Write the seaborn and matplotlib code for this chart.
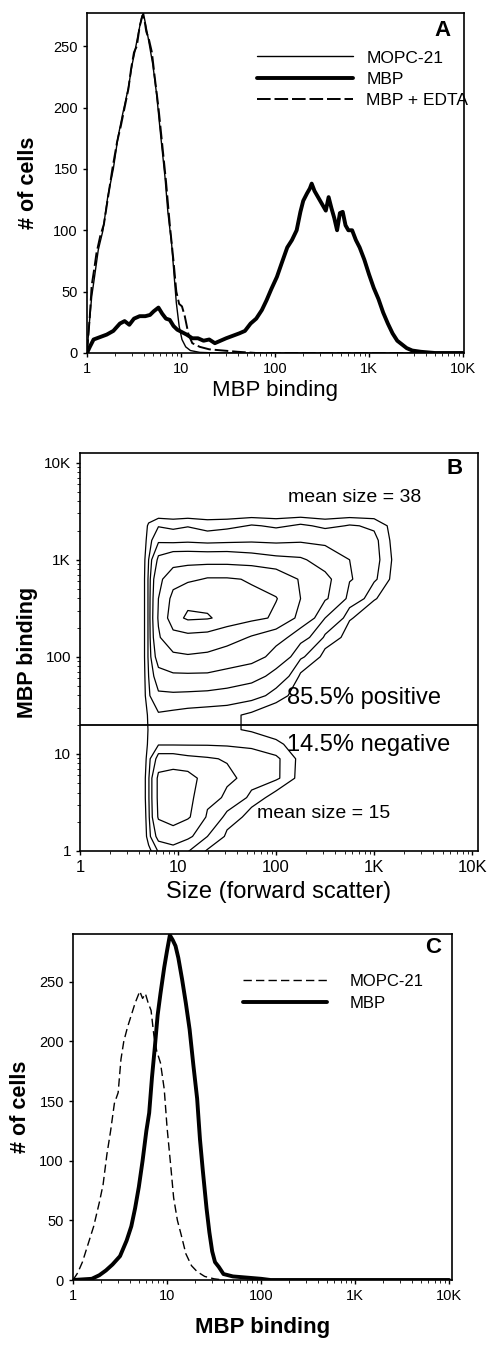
import numpy as np
import matplotlib
matplotlib.use("Agg")
import matplotlib.pyplot as plt
import seaborn as sns

# ---------------- panel A : histograms (x stored as log10 of MBP binding) ----------------
a_mopc_x = [0.0, 0.02, 0.05, 0.08, 0.12, 0.17, 0.22, 0.28, 0.33, 0.38, 0.44, 0.48, 0.51, 0.55, 0.58,
            0.60, 0.63, 0.65, 0.70, 0.74, 0.78, 0.83, 0.86, 0.90, 0.93, 0.95, 0.98, 1.01, 1.05, 1.10,
            1.20, 1.40, 4.0]
a_mopc_cells = [0, 20, 46, 62, 84, 100, 127, 150, 176, 195, 216, 235, 246, 262, 273,
                277, 265, 257, 235, 211, 180, 143, 115, 89, 60, 41, 22, 11, 5, 2,
                0.5, 0, 0]

a_mbp_x = [0.0, 0.03, 0.07, 0.14, 0.21, 0.28, 0.35, 0.40, 0.45, 0.50, 0.56, 0.62, 0.67, 0.71, 0.76,
           0.80, 0.84, 0.88, 0.92, 0.96, 1.01, 1.06, 1.12, 1.18, 1.24, 1.30, 1.36, 1.42, 1.48, 1.55,
           1.62, 1.68, 1.74, 1.80, 1.86, 1.91, 1.96, 2.02, 2.07, 2.13, 2.18, 2.23, 2.27, 2.30, 2.34,
           2.37, 2.39, 2.42, 2.45, 2.48, 2.51, 2.54, 2.57, 2.60, 2.63, 2.66, 2.69, 2.72, 2.75, 2.78,
           2.82, 2.86, 2.90, 2.95, 3.00, 3.05, 3.10, 3.15, 3.20, 3.25, 3.30, 3.35, 3.40, 3.46, 3.55,
           3.70, 4.0]
a_mbp_cells = [0, 5, 11, 13, 15, 18, 24, 26, 23, 28, 30, 30, 31, 34, 37,
               32, 28, 27, 22, 19, 17, 15, 12, 12, 10, 11, 8, 10, 12, 14,
               16, 18, 24, 28, 35, 43, 52, 62, 73, 86, 92, 100, 115, 124, 130,
               134, 138, 132, 128, 124, 120, 116, 127, 118, 110, 100, 114, 115, 104, 100,
               100, 92, 86, 76, 64, 53, 44, 33, 24, 16, 10, 7, 4, 2, 1,
               0, 0]

a_edta_x = [0.0, 0.03, 0.05, 0.08, 0.10, 0.14, 0.18, 0.22, 0.27, 0.32, 0.36, 0.40, 0.44, 0.47, 0.50,
            0.53, 0.56, 0.59, 0.61, 0.63, 0.66, 0.69, 0.72, 0.76, 0.80, 0.84, 0.88, 0.92, 0.95, 0.98,
            1.01, 1.04, 1.08, 1.12, 1.20, 1.30, 1.45, 1.60, 1.80, 4.0]
a_edta_cells = [0, 30, 55, 70, 81, 95, 105, 125, 150, 172, 185, 200, 215, 232, 245,
                250, 266, 275, 272, 262, 255, 245, 225, 200, 170, 140, 105, 75, 50, 40,
                38, 30, 15, 8, 5, 3, 2, 1, 0, 0]

# ---------------- panel B : contour density, grid in log10 units ----------------
b_size_log = [0.62, 0.7, 0.8, 0.95, 1.1, 1.3, 1.5, 1.75, 2.0, 2.25, 2.5, 2.75, 3.0, 3.2, 3.35]
b_mbp_log = [-0.05, 0.15, 0.35, 0.55, 0.75, 0.95, 1.1, 1.25, 1.4, 1.6,
             1.8, 2.0, 2.2, 2.4, 2.6, 2.8, 3.0, 3.2, 3.35, 3.5]
b_density = [
    [0, 0.6, 1.5, 2, 1.5, 0.6, 0.1, 0, 0, 0, 0, 0, 0, 0, 0],
    [0, 1.4, 5, 6, 4.5, 2, 0.8, 0.2, 0, 0, 0, 0, 0, 0, 0],
    [0, 1.6, 8.5, 10, 8.5, 3.5, 1.5, 0.6, 0, 0, 0, 0, 0, 0, 0],
    [0, 1.8, 9, 11, 9, 5, 3.5, 1.5, 0.5, 0, 0, 0, 0, 0, 0],
    [0, 1.8, 9, 10, 9.5, 6, 4.5, 3, 2.2, 0.5, 0, 0, 0, 0, 0],
    [0, 1.5, 5, 5, 4.5, 4.2, 3.8, 3, 2.2, 0.6, 0, 0, 0, 0, 0],
    [0, 1.2, 1.8, 1.8, 1.8, 1.8, 1.7, 1.5, 1.2, 0.4, 0, 0, 0, 0, 0],
    [0, 1.1, 1.5, 1.4, 1.3, 1.2, 1.1, 0.9, 0.5, 0.1, 0, 0, 0, 0, 0],
    [0, 1.2, 1.8, 1.6, 1.4, 1.3, 1.2, 0.8, 0.3, 0, 0, 0, 0, 0, 0],
    [0, 1.8, 3.5, 3.5, 3.4, 3.2, 3, 2.5, 1.5, 0.3, 0, 0, 0, 0, 0],
    [0, 2, 6, 7, 7, 7, 6, 5, 3, 0.8, 0, 0, 0, 0, 0],
    [0, 2.2, 11, 14, 15, 14, 12, 10, 6, 2.2, 0.6, 0, 0, 0, 0],
    [0, 2.2, 15, 24, 25, 24, 20, 15, 10, 5, 1.7, 0.5, 0, 0, 0],
    [0, 2.2, 17, 36, 42, 41, 36, 31, 26, 12, 4, 1.1, 0.2, 0, 0],
    [0, 2.2, 16, 32, 36, 36, 34, 30, 28.5, 16, 8.5, 3, 1.1, 0.2, 0],
    [0, 2.2, 14, 22, 26, 29, 29, 27, 22, 15, 9, 4.2, 2.2, 0.6, 0],
    [0, 2, 9, 11, 11, 11, 11, 10, 9, 8.5, 6, 4, 2.4, 0.8, 0],
    [0, 1.5, 3.2, 2.8, 3.1, 2.6, 2.9, 3.3, 3.0, 3.4, 3.1, 3.2, 2.3, 0.6, 0],
    [0, 1.2, 1.9, 1.7, 1.9, 1.6, 1.7, 2.1, 1.8, 2.2, 1.7, 2.1, 1.8, 0.5, 0],
    [0, 0, 0, 0, 0, 0, 0, 0, 0, 0, 0, 0, 0, 0, 0],
]
b_levels = [1, 2, 4, 8, 16, 28, 40]
b_gate = 20

# ---------------- panel C : histograms ----------------
c_mopc_x = [0.0, 0.05, 0.10, 0.16, 0.22, 0.28, 0.32, 0.36, 0.40, 0.44, 0.48, 0.51, 0.54, 0.58, 0.62,
            0.66, 0.69, 0.71, 0.74, 0.77, 0.80, 0.83, 0.86, 0.89, 0.93, 0.97, 1.00, 1.04, 1.07, 1.11,
            1.15, 1.20, 1.26, 1.32, 1.40, 1.50, 1.60]
c_mopc_cells = [0, 6, 15, 30, 45, 65, 80, 105, 125, 148, 157, 185, 200, 212, 222,
                232, 238, 242, 236, 240, 232, 226, 205, 192, 182, 160, 128, 95, 69, 50,
                38, 22, 12, 7, 3, 1, 0]

c_mbp_x = [0.0, 0.10, 0.20, 0.28, 0.35, 0.42, 0.50, 0.57, 0.62, 0.66, 0.70, 0.74, 0.78, 0.81, 0.84,
           0.87, 0.90, 0.93, 0.97, 1.00, 1.03, 1.06, 1.09, 1.12, 1.16, 1.20, 1.24, 1.28, 1.32, 1.35,
           1.38, 1.42, 1.45, 1.48, 1.51, 1.55, 1.60, 1.70, 1.85, 2.00, 2.10, 4.0]
c_mbp_cells = [0, 0.5, 1, 4, 8, 13, 20, 33, 45, 60, 78, 100, 125, 140, 170,
               195, 222, 240, 262, 276, 289, 285, 280, 270, 252, 232, 210, 180, 152, 118,
               92, 60, 40, 24, 15, 11, 5, 3, 2, 1, 0, 0]

decades = [1, 10, 100, 1000, 10000]
decade_labels = ["1", "10", "100", "1K", "10K"]
count_ticks = [0, 50, 100, 150, 200, 250]


def log_axis(axis, size):
    axis.set_major_locator(matplotlib.ticker.FixedLocator(decades))
    axis.set_major_formatter(matplotlib.ticker.FixedFormatter(decade_labels))
    axis.set_minor_locator(matplotlib.ticker.LogLocator(base=10, subs=np.arange(2, 10)))
    axis.set_minor_formatter(matplotlib.ticker.NullFormatter())
    axis.set_tick_params(labelsize=size)


sns.set_style("ticks")
plt.rcParams["font.family"] = ["Liberation Sans", "DejaVu Sans"]
for key in ["text.color", "axes.labelcolor", "xtick.color", "ytick.color", "axes.edgecolor"]:
    plt.rcParams[key] = "black"
plt.rcParams["axes.linewidth"] = 1.2
plt.rcParams["xtick.major.size"] = 3
plt.rcParams["xtick.minor.size"] = 2.2
plt.rcParams["ytick.major.size"] = 3
plt.rcParams["ytick.minor.size"] = 2.2
plt.rcParams["xtick.major.width"] = 1.0
plt.rcParams["ytick.major.width"] = 1.0

fig = plt.figure(figsize=(4.9, 13.46), dpi=100)
W, H = 490, 1346

# ---- A ----
axA = fig.add_axes([87 / W, 1 - 353 / H, 377 / W, 340 / H])
sns.lineplot(x=10 ** np.array(a_mopc_x), y=a_mopc_cells, ax=axA, color="black", lw=1.0,
             estimator=None, sort=False, label="MOPC-21")
sns.lineplot(x=10 ** np.array(a_mbp_x), y=a_mbp_cells, ax=axA, color="black", lw=2.8,
             estimator=None, sort=False, label="MBP")
sns.lineplot(x=10 ** np.array(a_edta_x), y=a_edta_cells, ax=axA, color="black", lw=1.4,
             linestyle=(0, (7, 2)), estimator=None, sort=False, label="MBP + EDTA")
axA.set_xscale("log")
axA.set_xlim(1, 10 ** 4.01)
axA.set_ylim(0, 277)
log_axis(axA.xaxis, 10.5)
axA.set_yticks(count_ticks)
axA.tick_params(axis="y", labelsize=10.5)
axA.set_xlabel("MBP binding", fontsize=16, labelpad=3)
axA.set_ylabel("# of cells", fontsize=15.5, fontweight="bold", labelpad=10)
axA.legend(loc="upper left", bbox_to_anchor=(0.451, 0.89), frameon=False, fontsize=12.5,
           handlelength=5.5, handletextpad=0.8, labelspacing=0.35, borderpad=0, borderaxespad=0)
axA.text(0.944, 0.95, "A", transform=axA.transAxes, fontsize=16, fontweight="bold",
         ha="center", va="center")

# ---- B ----
axB = fig.add_axes([80 / W, 1 - 851 / H, 398 / W, 398 / H])
axB.set_xscale("log")
axB.set_yscale("log")
axB.contour(10 ** np.array(b_size_log), 10 ** np.array(b_mbp_log), np.array(b_density),
            levels=b_levels, colors="black", linewidths=0.9)
axB.axhline(b_gate, color="black", lw=1.3)
axB.set_xlim(1, 10 ** 4.06)
axB.set_ylim(1, 10 ** 4.1)
log_axis(axB.xaxis, 12)
log_axis(axB.yaxis, 11)
axB.set_xlabel("Size (forward scatter)", fontsize=17, labelpad=4)
axB.set_ylabel("MBP binding", fontsize=15.5, fontweight="bold", labelpad=4)
axB.text(132, 4360, "mean size = 38", fontsize=14, va="center")
axB.text(129, 38, "85.5% positive", fontsize=17, va="center")
axB.text(129, 12.4, "14.5% negative", fontsize=17, va="center")
axB.text(64, 2.46, "mean size = 15", fontsize=14, va="center")
axB.text(0.942, 0.962, "B", transform=axB.transAxes, fontsize=16, fontweight="bold",
         ha="center", va="center")

# ---- C ----
axC = fig.add_axes([73 / W, 1 - 1280 / H, 379 / W, 346 / H])
sns.lineplot(x=10 ** np.array(c_mopc_x), y=c_mopc_cells, ax=axC, color="black", lw=1.0,
             linestyle=(0, (6, 3)), estimator=None, sort=False, label="MOPC-21")
sns.lineplot(x=10 ** np.array(c_mbp_x), y=c_mbp_cells, ax=axC, color="black", lw=2.8,
             estimator=None, sort=False, label="MBP")
axC.set_xscale("log")
axC.set_xlim(1, 10 ** 4.03)
axC.set_ylim(0, 290)
log_axis(axC.xaxis, 10.5)
axC.set_yticks(count_ticks)
axC.tick_params(axis="y", labelsize=10.5)
axC.set_xlabel("MBP binding", fontsize=16, fontweight="bold", labelpad=10)
axC.set_ylabel("# of cells", fontsize=15.5, fontweight="bold", labelpad=6)
axC.legend(loc="upper left", bbox_to_anchor=(0.449, 0.885), frameon=False, fontsize=12,
           handlelength=5.0, handletextpad=1.4, labelspacing=0.45, borderpad=0, borderaxespad=0)
axC.text(0.95, 0.962, "C", transform=axC.transAxes, fontsize=16, fontweight="bold",
         ha="center", va="center")

fig.savefig("out.png", dpi=100, facecolor="white")
